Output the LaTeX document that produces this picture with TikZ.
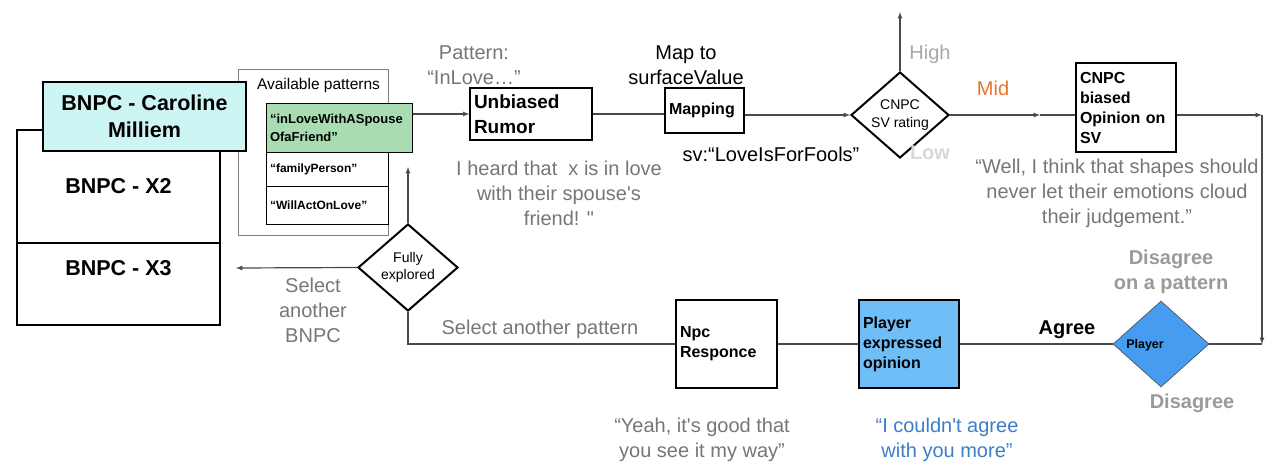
\documentclass[tikz,border=0pt]{standalone}
\usepackage{fontspec}
\setmainfont{Liberation Sans}[Ligatures=TeXOff]
\usepackage{xcolor}
\usepackage{tikz}
\usetikzlibrary{shapes.geometric}
\tikzset{>=latex}
\hyphenpenalty=10000
\exhyphenpenalty=10000

\definecolor{bnpccyan}{HTML}{CDF5F4}
\definecolor{patgreen}{HTML}{A9DDB1}
\definecolor{expressblue}{HTML}{70BEF7}
\definecolor{playerblue}{HTML}{459CF0}
\definecolor{quoteblue}{HTML}{3D7CC9}
\definecolor{midorange}{HTML}{E8742C}
\definecolor{txtgray}{HTML}{767676}
\definecolor{highgray}{HTML}{A8A8A8}
\definecolor{lowgray}{HTML}{D8D8D8}
\definecolor{disgray}{HTML}{9A9A9A}
\definecolor{linegray}{HTML}{4A4A4A}

\tikzset{
  flow/.style={draw=linegray, line width=1.2pt},
  bnpcbox/.style={draw, line width=2.4pt, minimum width=203pt, align=center,
    font=\fontsize{21.5}{27}\selectfont\bfseries},
  stepbox/.style={draw, line width=1.2pt, inner xsep=4pt, align=left,
    font=\fontsize{16}{20}\selectfont\bfseries},
  patbox/.style={draw, line width=1pt, inner xsep=4pt, align=left},
  decision/.style={diamond, draw, line width=2pt, inner sep=0pt, aspect=1.14,
    align=center, font=\fontsize{14}{17.5}\selectfont},
  graytext/.style={text=txtgray, align=center, font=\fontsize{20}{25}\selectfont},
  blacktext/.style={align=center, font=\fontsize{20}{25}\selectfont}
}

\begin{document}
\begin{tikzpicture}[x=1pt,y=-1pt]
\useasboundingbox (0,0) rectangle (1265,461);

% BNPC stack
\node[bnpcbox, minimum height=113pt] (bnpcX2) at (118.5,186.5) {BNPC - X2};
\node[bnpcbox, minimum height=82pt] (bnpcX3) at (118.5,284) {};
\node[font=\fontsize{21.5}{27}\selectfont\bfseries] (lblX3) at (118.5,268) {BNPC - X3};

% Available patterns
\node[draw=gray, line width=1pt, minimum width=150pt, minimum height=166pt] (avail) at (313,152) {};
\node[font=\fontsize{15.5}{19}\selectfont] (availLbl) at (318.5,85) {Available patterns};
\node[patbox, fill=patgreen, minimum height=49pt, text width=138pt,
  font=\fontsize{13}{18}\selectfont\bfseries] (patLove) at (339,127.5) {“inLoveWithASpouse\\OfaFriend”};
\node[patbox, minimum height=34pt, text width=114pt,
  font=\fontsize{12}{14}\selectfont\bfseries] (patFamily) at (327,169) {“familyPerson”};
\node[patbox, minimum height=38pt, text width=114pt,
  font=\fontsize{12}{14}\selectfont\bfseries] (patAct) at (327,205) {“WillActOnLove”};

\node[bnpcbox, fill=bnpccyan, minimum height=69pt] (bnpcCaroline) at (144.5,116.5) {BNPC - Caroline\\Milliem};

% Upper flow
\node[stepbox, minimum height=52pt, text width=114pt,
  font=\fontsize{19}{25}\selectfont\bfseries] (rumor) at (531,114) {Unbiased\\Rumor};
\node[stepbox, minimum height=45pt, text width=71pt] (mapping) at (704.5,110.5) {Mapping};
\node[decision, minimum width=98pt, minimum height=86pt] (svRating) at (900,115) {CNPC\\SV rating};
\node[stepbox, minimum height=89pt, text width=92pt] (cnpcOpinion) at (1126,107.5) {CNPC\\biased\\Opinion on\\SV};

% Lower flow
\node[decision, minimum width=100pt, minimum height=87pt] (fullyDec) at (408,267.5) {Fully\\explored};
\node[stepbox, minimum height=88pt, text width=93pt] (npcResp) at (726.5,344) {Npc\\Responce};
\node[stepbox, fill=expressblue, minimum height=88pt, text width=92pt] (expressed) at (909,344) {Player\\expressed\\opinion};
\node[diamond, draw=linegray, line width=0.6pt, fill=playerblue, inner sep=0pt,
  minimum width=96pt, minimum height=86pt] (playerDec) at (1161,344) {};
\node[font=\fontsize{12.5}{14}\selectfont\bfseries] (playerLbl) at (1145,345) {Player};

% Connectors
\draw[flow,->] (rumor.west -| patLove.east) -- (rumor.west);
\draw[flow] (rumor.east) -- (rumor.east -| mapping.west);
\draw[flow,->] (mapping.east |- svRating.west) -- (svRating.west);
\coordinate (highEnd) at (900,12);
\draw[flow,->] (svRating.north) -- (highEnd);
\coordinate (midTip) at (1040,115);
\draw[flow,->] (svRating.east) -- (midTip);
\draw[flow] (midTip) -- (cnpcOpinion.west |- midTip);
\coordinate (rightTop) at (1262,115);
\coordinate (rightBot) at (1262,344);
\draw[flow,->] (cnpcOpinion.east |- rightTop) -- (rightTop);
\draw[flow,->] (rightTop) -- (rightBot);
\draw[flow] (playerDec.east) -- (rightBot);
\draw[flow] (playerDec.west) -- (expressed.east);
\draw[flow] (expressed.west) -- (npcResp.east);
\draw[flow] (npcResp.west) -| (fullyDec.south);
\coordinate (patUp) at (408,167);
\draw[flow,->] (fullyDec.north) -- (patUp);
\coordinate (bnpcBack) at (236,268);
\draw[flow,->] (fullyDec.west) -- (bnpcBack);

% Labels
\node[graytext] (patternLbl) at (474,65) {Pattern:\\“InLove…”};
\node[blacktext] (mapLbl) at (686,65) {Map to\\surfaceValue};
\node[blacktext] (svLbl) at (771,154) {sv:“LoveIsForFools”};
\node[graytext] (rumorQuote) at (559,193) {I heard that~ x is in love\\with their spouse's\\friend! "};
\node[text=highgray, font=\fontsize{20}{25}\selectfont] (highLbl) at (930,54) {High};
\node[text=lowgray, font=\fontsize{20}{25}\selectfont\bfseries] (lowLbl) at (930,153) {Low};
\node[text=midorange, font=\fontsize{20}{25}\selectfont] (midLbl) at (993,88) {Mid};
\node[graytext] (opinionQuote) at (1117,193) {“Well, I think that shapes should\\never let their emotions cloud\\their judgement.”};
\node[text=disgray, align=center, font=\fontsize{20}{25}\selectfont\bfseries] (disPattern) at (1171,272) {Disagree\\on a pattern};
\node[text=disgray, font=\fontsize{20}{25}\selectfont\bfseries] (disLbl) at (1192,403) {Disagree};
\node[font=\fontsize{20}{25}\selectfont\bfseries] (agreeLbl) at (1067,330) {Agree};
\node[graytext] (selBnpc) at (313,310) {Select\\another\\BNPC};
\node[graytext] (selPattern) at (540,329) {Select another pattern};
\node[graytext] (npcQuote) at (702,440) {“Yeah, it's good that\\you see it my way”};
\node[text=quoteblue, align=center, font=\fontsize{20}{25}\selectfont] (playerQuote) at (947,440) {“I couldn't agree\\with you more”};

\end{tikzpicture}
\end{document}
